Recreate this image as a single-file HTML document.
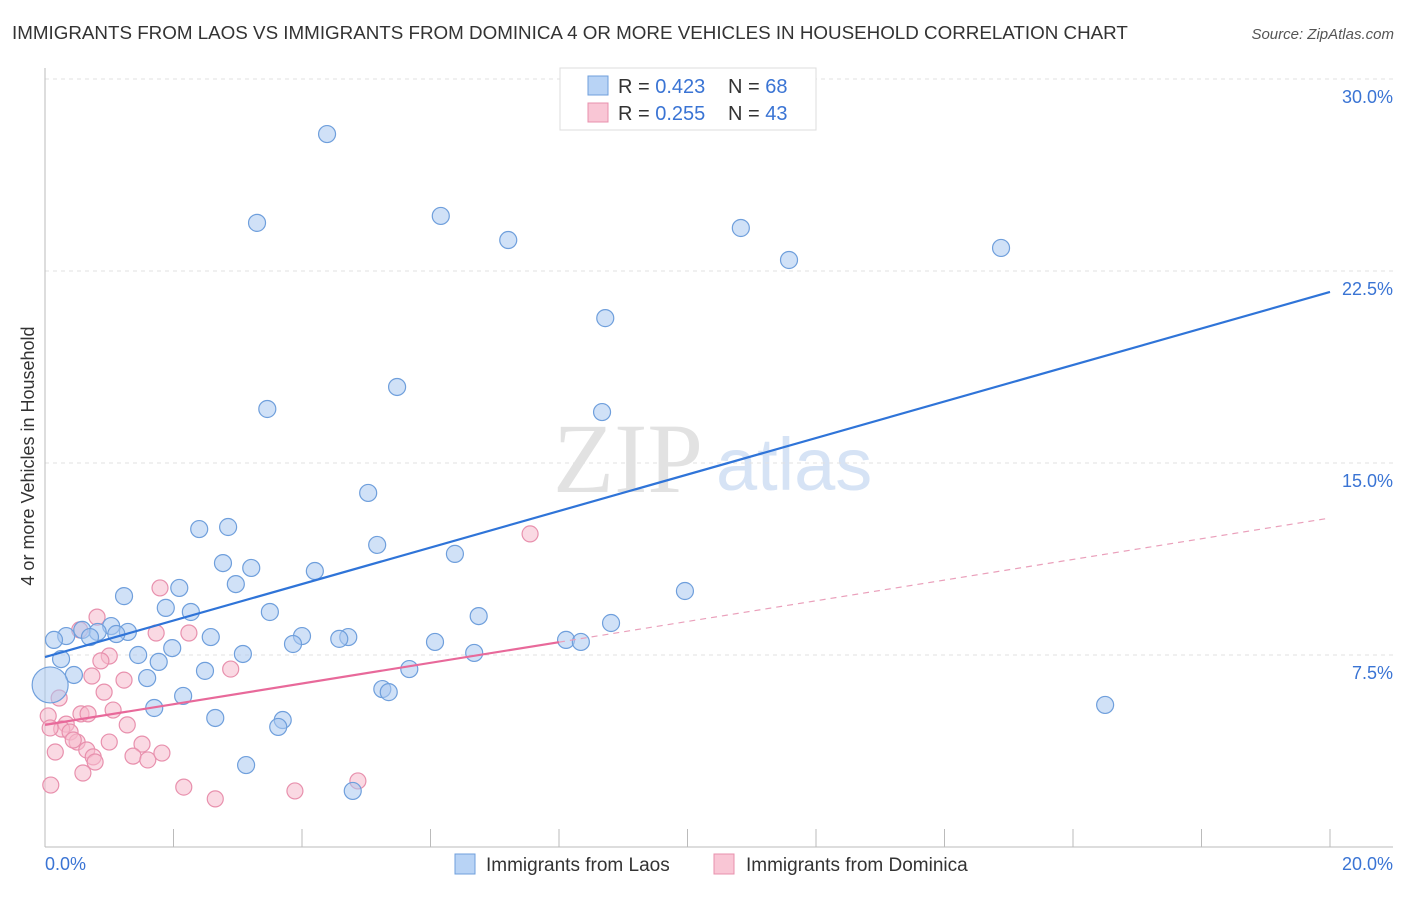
<!DOCTYPE html>
<html><head><meta charset="utf-8"><style>
body{margin:0;background:#fff;font-family:"Liberation Sans",sans-serif;}
svg text{font-family:"Liberation Sans",sans-serif;}
</style></head><body>
<svg id="chart" width="1406" height="892" viewBox="0 0 1406 892" xmlns="http://www.w3.org/2000/svg">
<text x="12" y="39" font-size="18.8" fill="#333">IMMIGRANTS FROM LAOS VS IMMIGRANTS FROM DOMINICA 4 OR MORE VEHICLES IN HOUSEHOLD CORRELATION CHART</text>
<text x="1394" y="39" font-size="15" fill="#555" font-style="italic" text-anchor="end">Source: ZipAtlas.com</text>
<g>
<text x="553" y="492" font-size="100" fill="#e2e2e2" style="font-family:'Liberation Serif',serif">ZIP</text>
<text x="716" y="490" font-size="74" fill="#d6e3f5">atlas</text>
</g>
<g id="grid"></g>
<g id="axes"></g>
<g id="points"></g>
<g id="lines"></g>
<text transform="translate(34,456) rotate(-90)" font-size="18" fill="#333" text-anchor="middle">4 or more Vehicles in Household</text>
<text x="45" y="870" font-size="18" fill="#3a74d4">0.0%</text>
<text x="1393" y="870" font-size="18" fill="#3a74d4" text-anchor="end">20.0%</text>
<g>
<rect x="560" y="68" width="256" height="62" fill="#fff" stroke="#ddd"/>
<rect x="588" y="76" width="20" height="19" fill="#b8d3f5" stroke="#6f9fdc"/>
<rect x="588" y="103" width="20" height="19" fill="#f9c6d5" stroke="#e890ad"/>
<text x="618" y="93" font-size="20" fill="#333">R = <tspan fill="#3a74d4">0.423</tspan></text>
<text x="728" y="93" font-size="20" fill="#333">N = <tspan fill="#3a74d4">68</tspan></text>
<text x="618" y="120" font-size="20" fill="#333">R = <tspan fill="#3a74d4">0.255</tspan></text>
<text x="728" y="120" font-size="20" fill="#333">N = <tspan fill="#3a74d4">43</tspan></text>
</g>
<g>
<rect x="455" y="854" width="20" height="20" fill="#b8d3f5" stroke="#6f9fdc"/>
<text x="486" y="871" font-size="19" fill="#333">Immigrants from Laos</text>
<rect x="714" y="854" width="20" height="20" fill="#f9c6d5" stroke="#e890ad"/>
<text x="746" y="871" font-size="19" fill="#333">Immigrants from Dominica</text>
</g>
</svg>
<script>
const yTicks=[7.5,15,22.5,30];
const yTickLabels=["7.5%","15.0%","22.5%","30.0%"];
const xTicks=[0,2,4,6,8,10,12,14,16,18,20];
const laosX=[4.39,3.30,6.16,7.21,10.83,11.58,14.88,8.72,5.48,3.46,8.67,5.03,2.40,2.85,5.17,6.38,2.77,3.21,4.20,2.97,2.09,9.96,1.23,1.88,2.27,3.50,6.75,8.81,1.03,0.58,0.82,1.29,1.11,0.33,0.70,0.14,2.58,4.00,4.72,4.58,6.07,8.11,8.34,3.86,1.98,3.08,1.45,6.68,0.25,1.77,2.49,5.67,1.59,0.45,2.15,5.25,5.35,1.70,16.50,2.65,3.70,3.63,3.13,4.79,0.08];
const laosY=[27.85,24.38,24.65,23.71,24.18,22.93,23.40,20.66,17.97,17.11,16.99,13.83,12.42,12.50,11.80,11.45,11.09,10.90,10.78,10.27,10.12,10.00,9.80,9.34,9.18,9.18,9.02,8.75,8.63,8.48,8.40,8.40,8.32,8.24,8.20,8.09,8.20,8.24,8.20,8.13,8.01,8.09,8.01,7.93,7.77,7.54,7.50,7.58,7.34,7.23,6.88,6.95,6.60,6.72,5.90,6.17,6.05,5.43,5.55,5.04,4.96,4.69,3.20,2.19,6.33];
const domX=[7.55,1.79,0.81,1.73,2.24,0.54,1.00,0.87,0.73,1.23,2.89,0.92,0.22,1.06,0.56,0.67,0.05,0.33,1.28,0.26,0.39,0.08,0.50,0.44,1.00,0.16,0.65,1.51,0.75,1.37,1.60,1.82,0.78,0.59,2.16,2.65,3.89,4.87,0.09];
const domY=[12.23,10.12,8.98,8.36,8.36,8.48,7.46,7.27,6.68,6.52,6.95,6.05,5.82,5.35,5.20,5.20,5.12,4.80,4.77,4.61,4.49,4.65,4.10,4.18,4.10,3.71,3.79,4.02,3.52,3.55,3.40,3.67,3.32,2.89,2.34,1.88,2.19,2.58,2.42];
const laosTrend=[7.42,21.68];
const domTrend=[4.77,12.85];
const domSolidEnd=8.0;
const NS="http://www.w3.org/2000/svg";
const X=v=>45+v*64.25;
const Y=v=>847-v*25.6;
function mk(tag,attrs,parent){const e=document.createElementNS(NS,tag);for(const k in attrs)e.setAttribute(k,attrs[k]);document.getElementById(parent).appendChild(e);return e;}
yTicks.forEach((t,i)=>{
 const g=mk('line',{x1:45,x2:1393,y1:Y(t),y2:Y(t),stroke:'#e2e2e2','stroke-dasharray':'4,4'},'grid');
 
 
 const l=mk('text',{x:1393,y:Y(t)+24,'font-size':18,fill:'#3a74d4','text-anchor':'end'},'grid');
 l.textContent=yTickLabels[i];
 
 
});
const topGrid=mk('line',{x1:45,x2:1393,y1:79,y2:79,stroke:'#e2e2e2','stroke-dasharray':'4,4'},'grid');


const ax=mk('line',{x1:45,x2:1393,y1:847,y2:847,stroke:'#bbb'},'axes');


const ay=mk('line',{x1:45,x2:45,y1:68,y2:847,stroke:'#bbb'},'axes');


xTicks.forEach(t=>{
 const k=mk('line',{x1:X(t),x2:X(t),y1:829,y2:847,stroke:'#bbb'},'axes');
 
 
});
function dot(x,y,fill,stroke,r){
 return mk('circle',{cx:X(x),cy:Y(y),r:r,fill:fill,'fill-opacity':0.55,stroke:stroke,'stroke-width':1.2},'points');
}
domX.forEach((x,i)=>{
 const c=dot(x,domY[i],'#f6b9cc','#e890ad',8);
 
 
});
laosX.forEach((x,i)=>{
 const c=dot(x,laosY[i],'#a9c8f0','#6f9fdc',i===laosX.length-1?18:8.5);
 
 
});
const bl=mk('line',{x1:X(0),y1:Y(laosTrend[0]),x2:X(20),y2:Y(laosTrend[1]),stroke:'#2f74d8','stroke-width':2.2},'lines');


const dy=v=>domTrend[0]+(domTrend[1]-domTrend[0])*v/20;
const pl=mk('line',{x1:X(0),y1:Y(domTrend[0]),x2:X(domSolidEnd),y2:Y(dy(domSolidEnd)),stroke:'#e8699a','stroke-width':2.2},'lines');


const pd=mk('line',{x1:X(domSolidEnd),y1:Y(dy(domSolidEnd)),x2:X(20),y2:Y(domTrend[1]),stroke:'#eaa0bb','stroke-width':1.2,'stroke-dasharray':'6,5'},'lines');


</script>
</body></html>
